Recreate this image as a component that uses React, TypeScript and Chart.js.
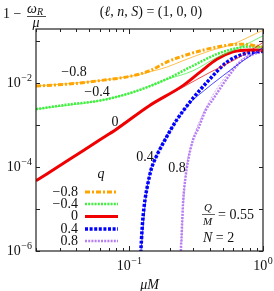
import React, { useEffect, useRef } from "react";
import { Chart, registerables } from "chart.js";

Chart.register(...registerables);

const SERIF = '"Liberation Serif", "DejaVu Serif", serif';

// ---- data ----
const qLabels = ["−0.8", "−0.4", "0", "0.4", "0.8"];

const xQm08 = [0.02, 0.035, 0.059, 0.105, 0.141, 0.19, 0.25, 0.38, 0.54, 0.71, 1.0];
const yQm08 = [0.0085, 0.0095, 0.0114, 0.0149, 0.0196, 0.0316, 0.044, 0.0645, 0.08, 0.085, 0.072];

const xQm04 = [0.02, 0.035, 0.059, 0.105, 0.19, 0.298, 0.451, 0.594, 0.798, 1.0];
const yQm04 = [0.0024, 0.0031, 0.0038, 0.006, 0.0125, 0.0258, 0.049, 0.0645, 0.075, 0.071];

const xQ0 = [0.02, 0.035, 0.059, 0.08, 0.141, 0.25, 0.336, 0.451, 0.594, 0.798, 1.0];
const yQ0 = [4.7e-5, 1.47e-4, 4.3e-4, 8.0e-4, 2.9e-3, 8.6e-3, 0.018, 0.037, 0.0556, 0.062, 0.061];

const xQ04 = [0.1217, 0.122, 0.1231, 0.1259, 0.1308, 0.1361, 0.1451, 0.1582, 0.1725, 0.1897, 0.2051, 0.2256, 0.2825, 0.4, 0.533, 0.711, 1.0];
const yQ04 = [7e-7, 1e-6, 1.83e-6, 5.47e-6, 1.64e-5, 3.4e-5, 8.49e-5, 1.73e-4, 2.99e-4, 5.18e-4, 8.04e-4, 1.315e-3, 3.47e-3, 0.0125, 0.0311, 0.049, 0.0588];

const xQ08 = [0.2427, 0.243, 0.2452, 0.2486, 0.2529, 0.2614, 0.2754, 0.2991, 0.3263, 0.3726, 0.423, 0.533, 0.671, 0.845, 1.0];
const yQ08 = [7e-7, 1e-6, 1.83e-6, 5.47e-6, 1.64e-5, 4.9e-5, 1.47e-4, 4.4e-4, 8.04e-4, 2.28e-3, 4.16e-3, 0.01245, 0.0311, 0.049, 0.0556];

// thin approximation curves
const xAm08 = [0.02, 0.059, 0.105, 0.141, 0.19, 0.25, 0.4, 0.594, 1.0];
const yAm08 = [0.0085, 0.0114, 0.0149, 0.0185, 0.024, 0.034, 0.0588, 0.085, 0.183];
const xAm04 = [0.02, 0.059, 0.105, 0.19, 0.298, 0.451, 0.671, 1.0];
const yAm04 = [0.0024, 0.0038, 0.006, 0.0122, 0.0196, 0.041, 0.0708, 0.134];
const xA0 = [0.02, 0.059, 0.141, 0.25, 0.4, 0.594, 0.798, 1.0];
const yA0 = [4.7e-5, 4.3e-4, 2.9e-3, 7.9e-3, 0.018, 0.034, 0.0588, 0.093];
const xA04 = [0.122, 0.1361, 0.1582, 0.2051, 0.2825, 0.336, 0.5, 0.708, 1.0];
const yA04 = [1e-6, 3.4e-5, 1.73e-4, 8.04e-4, 3.3e-3, 5.47e-3, 0.0149, 0.034, 0.0708];
const xA08 = [0.243, 0.2614, 0.2991, 0.3726, 0.449, 0.671, 1.0];
const yA08 = [1e-6, 4.9e-5, 4.4e-4, 2.5e-3, 7.2e-3, 0.034, 0.0645];

const xMajorTicks = [0.1, 1];
const xMinorTicks = [0.02, 0.03, 0.04, 0.05, 0.06, 0.07, 0.08, 0.09, 0.2, 0.3, 0.4, 0.5, 0.6, 0.7, 0.8, 0.9];
const yTicks = [1e-6, 1e-5, 1e-4, 1e-3, 1e-2, 1e-1];
const yLabelExps = [-2, -4, -6];
const xLabelExps = [-1, 0];

const COLORS = ["#ffa500", "#3cf03c", "#f00000", "#0000ff", "#b77ef2"];
const DASHES = [[5, 2, 2, 2], [2, 1.2], [], [3, 1.6], [2, 1.2]];
const WIDTHS = [3, 2.5, 3, 3.5, 2.5];

function pts(xs: number[], ys: number[]) {
  return xs.map((x, i) => ({ x, y: ys[i] }));
}

function rgba(hex: string, a: number) {
  const r = parseInt(hex.slice(1, 3), 16);
  const g = parseInt(hex.slice(3, 5), 16);
  const b = parseInt(hex.slice(5, 7), 16);
  return `rgba(${r},${g},${b},${a})`;
}

function drawPow(ctx: CanvasRenderingContext2D, exp: string, x: number, y: number, align: "right" | "center") {
  ctx.save();
  ctx.fillStyle = "#111";
  ctx.textBaseline = "middle";
  ctx.font = `14px ${SERIF}`;
  const wb = ctx.measureText("10").width;
  ctx.font = `10px ${SERIF}`;
  const we = ctx.measureText(exp).width;
  const total = wb + we + 0.5;
  let x0 = align === "right" ? x - total : x - total / 2;
  ctx.textAlign = "left";
  ctx.font = `14px ${SERIF}`;
  ctx.fillText("10", x0, y);
  ctx.font = `10px ${SERIF}`;
  ctx.fillText(exp, x0 + wb + 0.5, y - 5);
  ctx.restore();
}

const decorPlugin = {
  id: "decor",
  afterDraw(chart: any) {
    const ctx: CanvasRenderingContext2D = chart.ctx;
    const { left, right, top, bottom } = chart.chartArea;
    const xs = chart.scales.x;
    const ys = chart.scales.y;
    ctx.save();
    // frame
    ctx.strokeStyle = "#222";
    ctx.lineWidth = 1.2;
    ctx.strokeRect(left, top, right - left, bottom - top);
    // x ticks
    ctx.lineWidth = 1;
    const xt = (v: number, len: number) => {
      const p = Math.round(xs.getPixelForValue(v)) + 0.5;
      ctx.beginPath();
      ctx.moveTo(p, bottom);
      ctx.lineTo(p, bottom - len);
      ctx.moveTo(p, top);
      ctx.lineTo(p, top + len);
      ctx.stroke();
    };
    xMajorTicks.forEach((v) => xt(v, 5));
    xMinorTicks.forEach((v) => xt(v, 3));
    yTicks.forEach((v) => {
      const p = Math.round(ys.getPixelForValue(v)) + 0.5;
      ctx.beginPath();
      ctx.moveTo(left, p);
      ctx.lineTo(left + 4, p);
      ctx.moveTo(right, p);
      ctx.lineTo(right - 4, p);
      ctx.stroke();
    });
    // tick labels
    yLabelExps.forEach((e) => {
      const p = ys.getPixelForValue(Math.pow(10, e));
      drawPow(ctx, "−" + Math.abs(e), left - 4, p, "right");
    });
    xLabelExps.forEach((e) => {
      const p = xs.getPixelForValue(Math.pow(10, e));
      drawPow(ctx, e < 0 ? "−" + Math.abs(e) : String(e), p, bottom + 15, "center");
    });

    ctx.fillStyle = "#111";
    ctx.textBaseline = "middle";
    // x axis title
    ctx.textAlign = "center";
    ctx.font = `italic 14px ${SERIF}`;
    ctx.fillText("μM", (left + right) / 2 + 0, bottom + 34);

    // y axis title: 1 - omega_R / mu
    ctx.textAlign = "left";
    ctx.font = `14px ${SERIF}`;
    ctx.fillText("1 −", 3, 14);
    ctx.font = `italic 14px ${SERIF}`;
    ctx.fillText("ω", 27, 9);
    ctx.font = `italic 10px ${SERIF}`;
    ctx.fillText("R", 37, 12);
    ctx.beginPath();
    ctx.lineWidth = 0.8;
    ctx.moveTo(27, 16.5);
    ctx.lineTo(46, 16.5);
    ctx.stroke();
    ctx.font = `italic 14px ${SERIF}`;
    ctx.textAlign = "center";
    ctx.fillText("μ", 36, 23);

    // title
    const titleParts: [string, boolean][] = [["(", false], ["ℓ", true], [", ", false], ["n", true], [", ", false], ["S", true], [") = (1, 0, 0)", false]];
    let tw = 0;
    titleParts.forEach(([s, it]) => {
      ctx.font = `${it ? "italic " : ""}14px ${SERIF}`;
      tw += ctx.measureText(s).width;
    });
    let tx = 151 - tw / 2;
    ctx.textAlign = "left";
    titleParts.forEach(([s, it]) => {
      ctx.font = `${it ? "italic " : ""}14px ${SERIF}`;
      ctx.fillText(s, tx, 12);
      tx += ctx.measureText(s).width;
    });

    // curve annotations
    ctx.font = `14px ${SERIF}`;
    ctx.textAlign = "center";
    ctx.fillText("−0.8", 74, 72);
    ctx.fillText("−0.4", 97, 92);
    ctx.fillText("0", 115, 122);
    ctx.fillText("0.4", 145, 157);
    ctx.fillText("0.8", 177, 168);

    // parameter text
    ctx.textAlign = "left";
    ctx.font = `italic 11px ${SERIF}`;
    ctx.fillText("Q", 204, 208);
    ctx.fillText("M", 203, 222);
    ctx.beginPath();
    ctx.lineWidth = 0.7;
    ctx.moveTo(202, 214.5);
    ctx.lineTo(215, 214.5);
    ctx.stroke();
    ctx.font = `14px ${SERIF}`;
    ctx.fillText("= 0.55", 218, 215);
    ctx.font = `italic 14px ${SERIF}`;
    ctx.fillText("N", 203, 238);
    const wn = ctx.measureText("N").width;
    ctx.font = `14px ${SERIF}`;
    ctx.fillText(" = 2", 203 + wn, 238);

    // legend
    ctx.font = `italic 14px ${SERIF}`;
    ctx.textAlign = "center";
    ctx.fillText("q", 101, 174);
    const ly = [192, 204, 216.5, 229, 241];
    qLabels.forEach((lab, i) => {
      ctx.font = `14px ${SERIF}`;
      ctx.textAlign = "right";
      ctx.fillStyle = "#111";
      ctx.fillText(lab, 78, ly[i]);
      ctx.beginPath();
      ctx.strokeStyle = COLORS[i];
      ctx.lineWidth = WIDTHS[i];
      ctx.setLineDash(DASHES[i]);
      ctx.moveTo(85, ly[i]);
      ctx.lineTo(118, ly[i]);
      ctx.stroke();
      ctx.setLineDash([]);
    });
    ctx.restore();
  },
};

export default function App() {
  const ref = useRef<HTMLCanvasElement | null>(null);
  useEffect(() => {
    if (!ref.current) return;
    const thick = [pts(xQm08, yQm08), pts(xQm04, yQm04), pts(xQ0, yQ0), pts(xQ04, yQ04), pts(xQ08, yQ08)];
    const thin = [pts(xAm08, yAm08), pts(xAm04, yAm04), pts(xA0, yA0), pts(xA04, yA04), pts(xA08, yA08)];
    const datasets: any[] = [];
    thin.forEach((d, i) => {
      datasets.push({
        data: d,
        borderColor: rgba(COLORS[i], 0.7),
        borderWidth: 1,
        borderDash: i === 4 ? [2, 1.5] : [],
        pointRadius: 0,
        cubicInterpolationMode: "monotone",
        fill: false,
      });
    });
    thick.forEach((d, i) => {
      datasets.push({
        data: d,
        borderColor: COLORS[i],
        borderWidth: WIDTHS[i],
        borderDash: DASHES[i],
        pointRadius: 0,
        cubicInterpolationMode: "monotone",
        fill: false,
      });
    });
    const chart = new Chart(ref.current, {
      type: "line",
      data: { datasets },
      options: {
        animation: false,
        responsive: false,
        devicePixelRatio: 1,
        layout: { padding: { left: 36, top: 29, right: 11, bottom: 40 } },
        plugins: { legend: { display: false }, tooltip: { enabled: false } },
        scales: {
          x: { type: "logarithmic", min: 0.02, max: 1, display: false },
          y: { type: "logarithmic", min: 1e-6, max: 0.195, display: false },
        },
      },
      plugins: [decorPlugin],
    });
    return () => chart.destroy();
  }, []);
  return (
    <div style={{ position: "fixed", left: 0, top: 0, width: 274, height: 291, background: "#fff" }}>
      <canvas ref={ref} width={274} height={291} style={{ width: 274, height: 291 }} />
    </div>
  );
}
